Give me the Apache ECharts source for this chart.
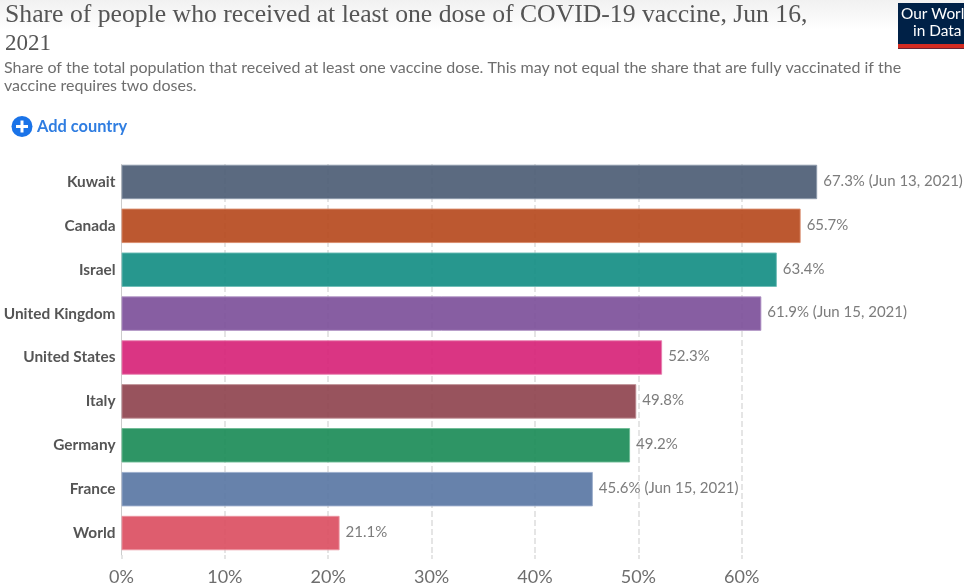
<!DOCTYPE html>
<html><head><meta charset="utf-8">
<style>html,body{margin:0;padding:0;background:#fff}#c{width:964px;height:588px}</style>
<script src="https://cdn.jsdelivr.net/npm/echarts@6/dist/echarts.min.js"></script>
</head><body><div id="c"></div>
<script>
const countries = ['Kuwait','Canada','Israel','United Kingdom','United States','Italy','Germany','France','World'];
const values = [67.3,65.7,63.4,61.9,52.3,49.8,49.2,45.6,21.1];
const dateNotes = ['Jun 13, 2021','','','Jun 15, 2021','','','','Jun 15, 2021',''];
const colors = ['#495a72','#b54619','#0f8c82','#7a4d98','#d61f76','#8d404b','#178a54','#5774a2','#da4b5e'];
const borders = ['#8d99ab','#d98a68','#6ebdb6','#ad8fc2','#e87fae','#bb8a90','#6dbb95','#9aaccb','#eb94a0'];
const font = 'Lato';
const chart = echarts.init(document.getElementById('c'), null, {renderer:'canvas'});
chart.setOption({
  animation:false,
  backgroundColor:'#fff',
  graphic:[
    {type:'rect',shape:{x:0,y:0,width:964,height:30},z:-1,style:{fill:new echarts.graphic.LinearGradient(0,0,0,1,[{offset:0,color:'#f1f1f1'},{offset:1,color:'#ffffff'}])}},
    {type:'rect',shape:{x:115,y:155,width:750,height:9},z:5,style:{fill:'#fff'}},
    {type:'text',x:5,y:2,style:{text:'Share of people who received at least one dose of COVID-19 vaccine, Jun 16,',font:'25.7px "Liberation Serif"',fill:'#555'}},
    {type:'text',x:5,y:32,style:{text:'2021',font:'23px "Liberation Serif"',fill:'#555'}},
    {type:'text',x:4,y:60,style:{text:'Share of the total population that received at least one vaccine dose. This may not equal the share that are fully vaccinated if the',font:'16px Lato',fill:'#6e6e6e'}},
    {type:'text',x:4,y:78,style:{text:'vaccine requires two doses.',font:'16px Lato',fill:'#6e6e6e'}},
    {type:'circle',shape:{cx:22,cy:126.5,r:10.5},style:{fill:'#1a73e8'}},
    {type:'rect',shape:{x:16,y:125,width:12,height:3},style:{fill:'#fff'}},
    {type:'rect',shape:{x:20.5,y:120.5,width:3,height:12},style:{fill:'#fff'}},
    {type:'text',x:37,y:119,style:{text:'Add country',font:'bold 16.4px Lato',fill:'#2f7de1'}},
    {type:'rect',shape:{x:898,y:3,width:66,height:46},style:{fill:'#002147'}},
    {type:'rect',shape:{x:898,y:44,width:66,height:4.5},style:{fill:'#d42b21'}},
    {type:'text',x:901,y:7,style:{text:'Our World',font:'15.4px Lato',fill:'#fff'}},
    {type:'text',x:913,y:24,style:{text:'in Data',font:'15.4px Lato',fill:'#fff'}}
  ],
  grid:{left:121.5,top:160,width:723.6,height:395},
  xAxis:{type:'value',min:0,max:70,interval:10,
    axisLine:{show:false},
    axisTick:{show:true,length:4,lineStyle:{color:'#ddd',type:'dashed',width:1.5}},
    axisLabel:{showMaxLabel:false,fontFamily:font,fontSize:18,color:'#6e6e6e',margin:13,formatter:v=>v+'%'},
    splitLine:{show:true,showMaxLine:false,showMinLine:false,lineStyle:{color:'#ddd',type:'dashed',width:1.5}}},
  yAxis:{type:'category',inverse:true,data:countries,
    axisLine:{show:true,lineStyle:{color:'#ccc'}},axisTick:{show:false},
    axisLabel:{fontFamily:font,fontSize:15.4,fontWeight:'bold',color:'#555',margin:6,padding:[0,0,3,0]}},
  series:[{type:'bar',barWidth:34.5,
    data:values.map((v,i)=>({value:v,itemStyle:{color:colors[i],borderColor:borders[i],borderWidth:1,opacity:0.9},
      label:{formatter:v.toFixed(1)+'%'+(dateNotes[i]?' ('+dateNotes[i]+')':'')}})),
    label:{show:true,position:'right',distance:6,offset:[0,-1],fontFamily:font,fontSize:15,color:'#6e6e6e'},
    z:1}]
});
</script></body></html>
